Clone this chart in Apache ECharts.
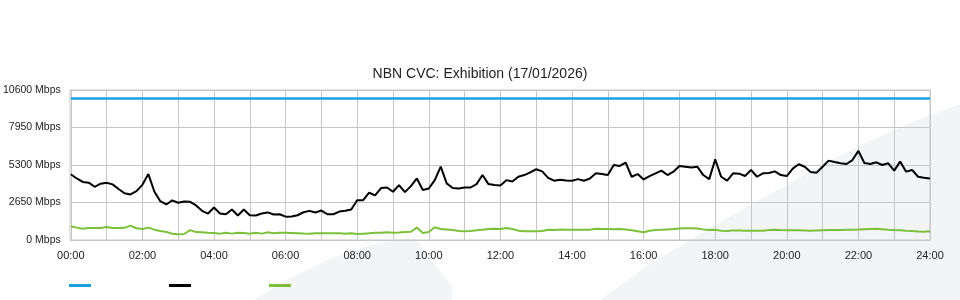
<!DOCTYPE html>
<html><head><meta charset="utf-8">
<script src="https://cdn.jsdelivr.net/npm/echarts@6/dist/echarts.min.js"></script>
<style>html,body{margin:0;padding:0;background:#fff}#c{width:960px;height:300px}</style>
</head><body><div id="c"></div>
<script>
const titleText = 'NBN CVC: Exhibition (17/01/2026)';
const seriesNames = ['Capacity', 'Traffic', 'Other'];
const yTicks = [0, 2650, 5300, 7950, 10600];
// 10-minute slots 00:00 .. 24:00
const slots = [];
for (let m = 0; m <= 1440; m += 10) {
  slots.push(String(Math.floor(m / 60)).padStart(2, '0') + ':' + String(m % 60).padStart(2, '0'));
}
const capacity = new Array(145).fill(10000);
const traffic = [
  4650,4350,4100,4050,3760,3980,4050,3930,3600,3300,3220,3450,3900,4660,3430,2740,2510,2800,2630,2720,
  2700,2440,2060,1870,2300,1870,1820,2150,1730,2150,1750,1730,1870,1950,1800,1820,1650,
  1660,1750,1960,2060,1940,2080,1820,1820,2010,2060,2150,2810,2810,3340,3150,3670,3710,3410,3880,3380,
  3810,4350,3530,3640,4230,5180,4000,3670,3640,3710,3710,3950,4590,3950,3880,3850,
  4230,4140,4470,4590,4780,5000,4850,4390,4190,4250,4210,4190,4300,4190,4350,4710,4660,4590,5300,5230,
  5470,4470,4660,4280,4520,4710,4900,4590,4830,5230,5180,5130,5180,4590,4300,5700,
  4470,4190,4710,4690,4520,4950,4470,4710,4730,4850,4590,4520,5040,5350,5180,4800,4760,5180,5610,5510,
  5420,5370,5650,6300,5440,5370,5490,5300,5420,4900,5540,4830,4950,4470,4400,4350
];
const other = [
  970,875,800,850,850,850,920,850,850,860,1020,830,780,875,730,640,570,450,400,425,
  700,560,545,520,500,450,520,450,510,500,450,510,450,540,470,510,520,
  500,480,460,450,480,470,480,470,470,450,480,420,450,480,520,520,540,520,530,560,
  580,880,500,560,900,780,740,700,640,620,640,690,720,780,800,780,
  850,780,660,620,620,620,630,720,700,740,730,720,730,720,730,790,780,770,760,780,
  740,690,620,550,650,700,720,750,780,820,830,830,820,750,700,720,
  650,640,680,670,650,660,650,660,700,720,700,690,690,690,680,660,680,690,700,700,
  710,720,730,740,760,780,800,760,720,700,690,660,640,600,580,620
];
const colors = ['#1aa1e1', '#000000', '#7cc03a'];

const chart = echarts.init(document.getElementById('c'), null, {renderer: 'canvas'});
const gridCol = '#c6c6c6';
const font = '"Liberation Sans", Arial, sans-serif';
chart.setOption({
  animation: false,
  backgroundColor: '#ffffff',
  title: {
    text: titleText, left: 'center', top: 62,
    textStyle: {fontFamily: font, fontSize: 14, fontWeight: 'normal', color: '#222'}
  },
  graphic: {elements: [
    {id: 'bgR', type: 'polygon', z: -10, silent: true,
     shape: {points: [[600,300],[650,264],[690,240],[714,226],[750,205],[790,183],[824,164],[870,141],[915,121],[960,104],[960,300]]},
     style: {fill: '#f3f4f6', stroke: '#f3f4f6', lineWidth: 0}},
    {id: 'bgL', type: 'polygon', z: -10, silent: true,
     shape: {points: [[254,300],[290,278],[330,259],[370,245],[414,237],[452,287],[452,300]]},
     style: {fill: '#f3f4f6', stroke: '#f3f4f6', lineWidth: 0}},
    {id: 'frame', type: 'rect', z: 1, silent: true,
     shape: {x: 70, y: 90, width: 860, height: 150},
     style: {fill: 'transparent', stroke: gridCol, lineWidth: 1}}
  ]},
  legend: {
    left: 64, top: 279, itemWidth: 22, itemHeight: 3, itemGap: 78, icon: 'rect',
    formatter: function () { return ''; }, data: seriesNames,
    selectedMode: false
  },
  grid: {left: 70, right: 30, top: 90, bottom: 60},
  xAxis: {
    type: 'category', data: slots, boundaryGap: false,
    axisLine: {show: true, lineStyle: {color: gridCol}},
    axisTick: {show: false},
    axisLabel: {interval: 11, color: '#222', fontFamily: font, fontSize: 11, margin: 10},
    splitLine: {show: true, interval: 5, lineStyle: {color: gridCol, width: 1}}
  },
  yAxis: {
    type: 'value', min: 0, max: 10600, interval: 2650,
    axisLine: {show: true, lineStyle: {color: gridCol}},
    axisTick: {show: false},
    axisLabel: {color: '#222', fontFamily: font, fontSize: 10.5, margin: 10, formatter: function (v) { return v + ' Mbps'; }},
    splitLine: {show: true, lineStyle: {color: gridCol, width: 1}}
  },
  series: [
    {name: seriesNames[0], type: 'line', data: capacity, showSymbol: false, color: colors[0], lineStyle: {width: 2.5}},
    {name: seriesNames[1], type: 'line', data: traffic, showSymbol: false, color: colors[1], lineStyle: {width: 2}},
    {name: seriesNames[2], type: 'line', data: other, showSymbol: false, color: colors[2], lineStyle: {width: 2}}
  ]
});
</script></body></html>
